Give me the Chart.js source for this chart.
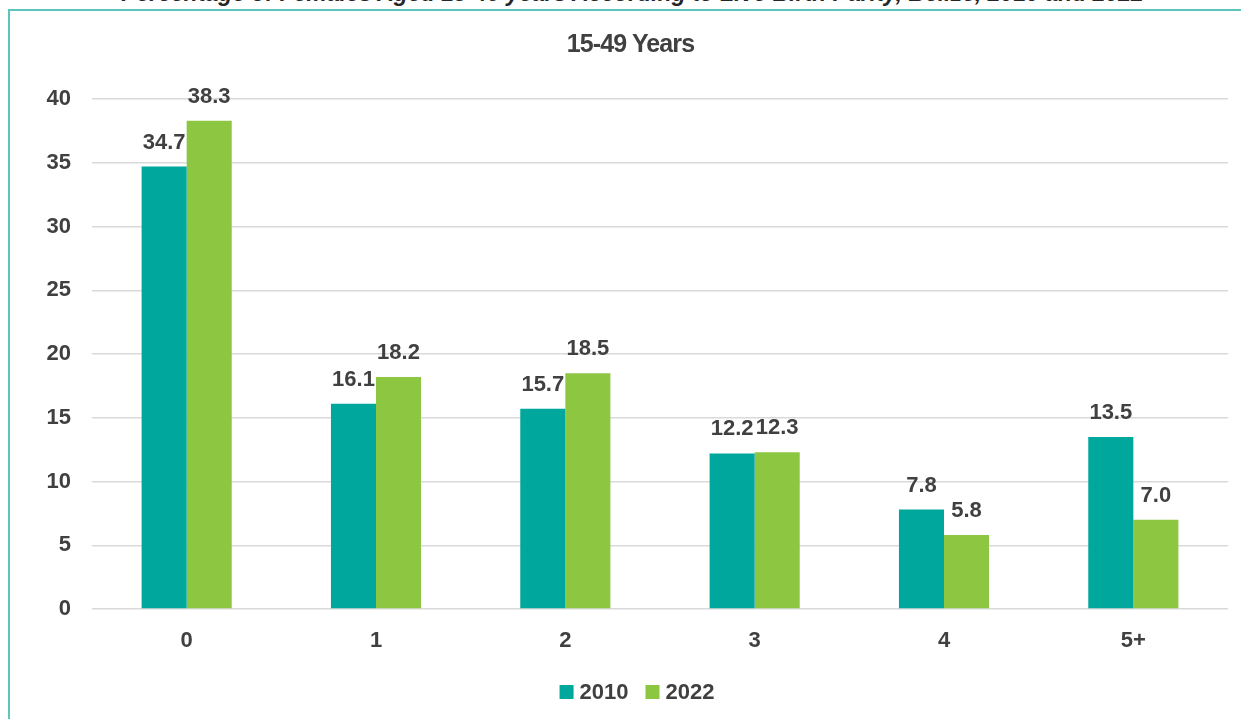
<!DOCTYPE html>
<html>
<head>
<meta charset="utf-8">
<script src="https://cdn.jsdelivr.net/npm/chart.js@4.4.1/dist/chart.umd.min.js"></script>
<style>
  html, body { margin: 0; padding: 0; background: #ffffff; overflow: hidden; width: 1241px; height: 719px; }
  #pageTitle {
    position: absolute; left: 12px; top: -18px; width: 1241px; text-align: center;
    font: italic bold 23px "Liberation Sans", Arial, sans-serif; line-height: 23px; color: #262626;
    white-space: nowrap;
  }
  #frame {
    position: absolute; left: 8px; top: 9px; width: 1300px; height: 800px;
    border: 2px solid #5cc5bd; box-sizing: border-box;
  }
  #chartTitle {
    position: absolute; left: 10px; top: 29px; width: 1241px; text-align: center;
    font: bold 25px "Liberation Sans", Arial, sans-serif; letter-spacing: -0.9px; color: #404040;
    line-height: 28px;
  }
  #chart { position: absolute; left: 10px; top: 11px; }
</style>
</head>
<body>
<div id="pageTitle">Percentage of Females Aged 15-49 years According to Live Birth Parity, Belize, 2010 and 2022</div>
<div id="frame"></div>
<canvas id="chart" width="1231" height="708"></canvas>
<div id="chartTitle">15-49 Years</div>
<script>
// Live birth parity groups and the share of females (%) in each census year
const parity = ['0', '1', '2', '3', '4', '5+'];
const share2010 = [34.7, 16.1, 15.7, 12.2, 7.8, 13.5];
const share2022 = [38.3, 18.2, 18.5, 12.3, 5.8, 7.0];
const yTicks = [0, 5, 10, 15, 20, 25, 30, 35, 40];

const TEXT = '#404040';
const FONT = '"Liberation Sans", Arial, sans-serif';
const SIZE = 22;

// Value labels printed above each bar
const barValueLabels = {
  id: 'barValueLabels',
  afterDatasetsDraw(chart) {
    const ctx = chart.ctx;
    ctx.save();
    ctx.font = 'bold ' + SIZE + 'px ' + FONT;
    ctx.fillStyle = TEXT;
    ctx.textAlign = 'center';
    ctx.textBaseline = 'alphabetic';
    chart.data.datasets.forEach((ds, i) => {
      chart.getDatasetMeta(i).data.forEach((bar, j) => {
        ctx.fillText(ds.data[j].toFixed(1), bar.x, bar.y - 18);
      });
    });
    ctx.restore();
  }
};

// Compact legend: small square swatch followed closely by the series name
const compactLegend = {
  id: 'compactLegend',
  afterDraw(chart) {
    const ctx = chart.ctx;
    const box = 14, gap = 6, spacing = 17;
    ctx.save();
    ctx.font = 'bold ' + SIZE + 'px ' + FONT;
    const items = chart.data.datasets.map(ds => ({
      label: ds.label, color: ds.backgroundColor, w: ctx.measureText(ds.label).width
    }));
    const total = items.reduce((s, it) => s + box + gap + it.w, 0) + spacing * (items.length - 1);
    const cx = (chart.chartArea.left + chart.chartArea.right) / 2 - 23;
    const cy = chart.chartArea.bottom + 83;
    let x = cx - total / 2;
    ctx.textAlign = 'left';
    ctx.textBaseline = 'middle';
    items.forEach(it => {
      ctx.fillStyle = it.color;
      ctx.fillRect(x, cy - box / 2, box, box);
      ctx.fillStyle = TEXT;
      ctx.fillText(it.label, x + box + gap, cy + 1);
      x += box + gap + it.w + spacing;
    });
    ctx.restore();
  }
};

new Chart(document.getElementById('chart'), {
  type: 'bar',
  data: {
    labels: parity,
    datasets: [
      { label: '2010', data: share2010, backgroundColor: '#00a79d', borderWidth: 0 },
      { label: '2022', data: share2022, backgroundColor: '#8dc641', borderWidth: 0 }
    ]
  },
  options: {
    responsive: false,
    animation: false,
    layout: { padding: { top: 88, right: 13, left: 0, bottom: 48 } },
    datasets: { bar: { categoryPercentage: 0.476, barPercentage: 1.0 } },
    plugins: {
      title: { display: false },
      tooltip: { enabled: false },
      legend: { display: false }
    },
    scales: {
      x: {
        grid: { display: false },
        border: { display: false },
        ticks: { color: TEXT, padding: 11, font: { family: FONT, size: SIZE, weight: 'bold' } },
        afterFit(scale) { scale.height = 62; }
      },
      y: {
        min: 0, max: 40,
        afterBuildTicks(scale) { scale.ticks = yTicks.map(v => ({ value: v })); },
        grid: { color: '#d9d9d9', lineWidth: 1.5, drawTicks: false },
        border: { display: false },
        ticks: { color: TEXT, padding: 21, font: { family: FONT, size: SIZE, weight: 'bold' } },
        afterFit(scale) { scale.width = 82; }
      }
    }
  },
  plugins: [barValueLabels, compactLegend]
});
</script>
</body>
</html>
